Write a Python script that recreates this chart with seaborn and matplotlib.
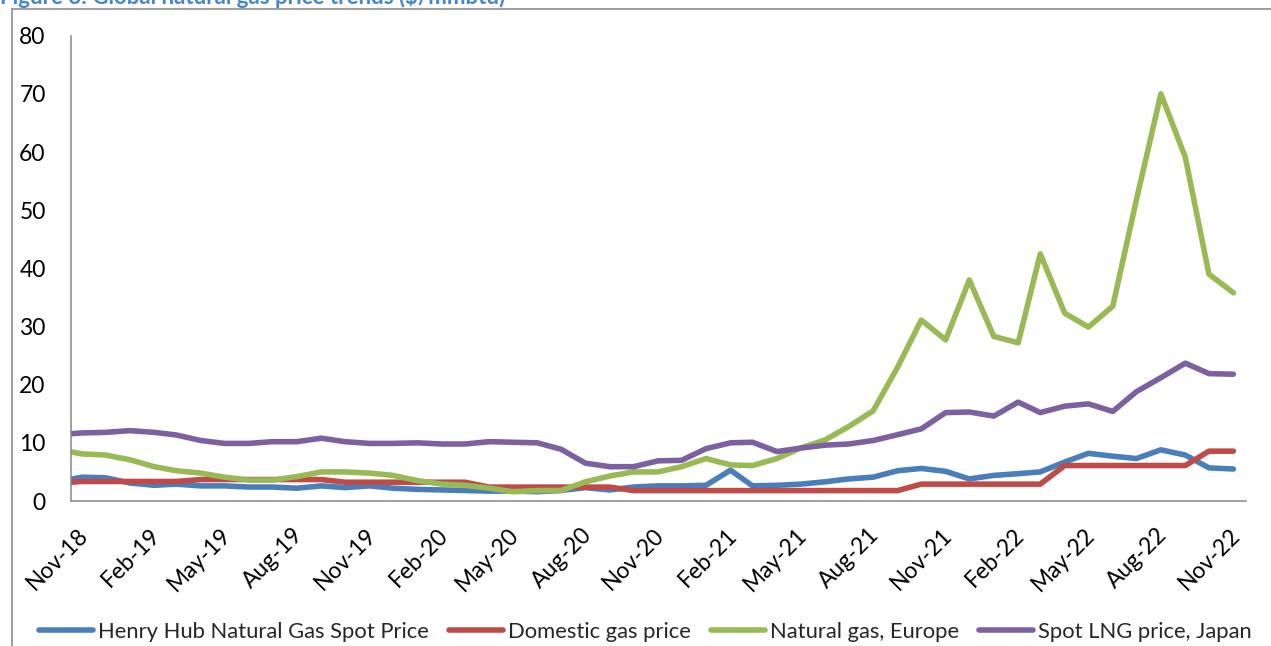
import numpy as np
import pandas as pd
import matplotlib
matplotlib.use("Agg")
import matplotlib.pyplot as plt
import matplotlib.transforms as mtransforms
from matplotlib.lines import Line2D
import seaborn as sns

# Monthly observations (mid-month), Oct-18 .. Nov-22
months = pd.date_range("2018-10-01", "2022-11-01", freq="MS") + pd.Timedelta(days=14)

henry_hub = [3.3, 4.1, 4.0, 3.1, 2.7, 2.9, 2.6, 2.6, 2.4, 2.4,
             2.2, 2.6, 2.3, 2.6, 2.2, 2.0, 1.9, 1.8, 1.7, 1.7,
             1.6, 1.8, 2.3, 1.9, 2.4, 2.6, 2.6, 2.7, 5.3, 2.6,
             2.7, 2.9, 3.3, 3.8, 4.1, 5.2, 5.6, 5.1, 3.8, 4.4,
             4.7, 5.0, 6.7, 8.2, 7.7, 7.3, 8.8, 7.9, 5.7, 5.5]

domestic_gas = [3.06, 3.36, 3.36, 3.36, 3.36, 3.36, 3.69, 3.69, 3.69, 3.69,
                3.69, 3.69, 3.23, 3.23, 3.23, 3.23, 3.23, 3.23, 2.39, 2.39,
                2.39, 2.39, 2.39, 2.39, 1.79, 1.79, 1.79, 1.79, 1.79, 1.79,
                1.79, 1.79, 1.79, 1.79, 1.79, 1.79, 2.90, 2.90, 2.90, 2.90,
                2.90, 2.90, 6.10, 6.10, 6.10, 6.10, 6.10, 6.10, 8.57, 8.57]

europe_gas = [8.9, 8.1, 7.9, 7.1, 5.9, 5.2, 4.8, 4.1, 3.6, 3.6,
              4.2, 5.0, 5.0, 4.8, 4.4, 3.5, 2.9, 2.7, 2.2, 1.6,
              1.8, 1.8, 3.3, 4.3, 5.0, 5.0, 5.9, 7.3, 6.2, 6.1,
              7.3, 9.1, 10.5, 12.8, 15.5, 23.0, 31.1, 27.7, 38.0, 28.3,
              27.2, 42.5, 32.3, 29.9, 33.5, 51.8, 70.0, 59.1, 39.0, 35.8]

japan_lng = [11.4, 11.7, 11.8, 12.1, 11.8, 11.35, 10.4, 9.9, 9.9, 10.2,
             10.2, 10.8, 10.2, 9.9, 9.9, 10.0, 9.8, 9.8, 10.2, 10.1,
             10.0, 8.9, 6.5, 5.9, 5.9, 6.9, 7.0, 9.0, 10.0, 10.1,
             8.5, 9.1, 9.6, 9.8, 10.4, 11.4, 12.4, 15.2, 15.3, 14.6,
             17.0, 15.2, 16.3, 16.7, 15.4, 18.8, 21.2, 23.7, 21.9, 21.8]

series_names = ["Henry Hub Natural Gas Spot Price", "Domestic gas price",
                "Natural gas, Europe", "Spot LNG price, Japan"]
series_colors = ["#4A7EBB", "#BE4B48", "#98B954", "#7D60A0"]

tick_labels = ["Nov-18", "Feb-19", "May-19", "Aug-19", "Nov-19", "Feb-20",
               "May-20", "Aug-20", "Nov-20", "Feb-21", "May-21", "Aug-21",
               "Nov-21", "Feb-22", "May-22", "Aug-22", "Nov-22"]
y_ticks = [0, 10, 20, 30, 40, 50, 60, 70, 80]

title_text = "Figure 3: Global natural gas price trends ($/mmbtu)"

# Long-form table for seaborn
df = pd.concat([
    pd.DataFrame({"month": months, "price": vals, "series": name})
    for name, vals in zip(series_names, [henry_hub, domestic_gas, europe_gas, japan_lng])
], ignore_index=True)

sns.set_style("white")
plt.rcParams["font.family"] = ["Lato", "DejaVu Sans"]

W, H = 1271, 646
fig = plt.figure(figsize=(W / 100, H / 100), dpi=100)
ax = fig.add_axes([70.7 / W, 1 - 501 / H, (1246 - 70.7) / W, (501 - 35.7) / H])

sns.lineplot(data=df, x="month", y="price", hue="series", hue_order=series_names,
             palette=dict(zip(series_names, series_colors)), estimator=None,
             linewidth=4.0, solid_joinstyle="round", solid_capstyle="round",
             ax=ax, legend=True)

ax.set_xlim(pd.Timestamp("2018-11-01"), pd.Timestamp("2022-12-01"))
ax.set_ylim(0, 80)
ax.set_xlabel("")
ax.set_ylabel("")

axis_gray = "#868686"
for side in ["top", "right"]:
    ax.spines[side].set_visible(False)
for side in ["left", "bottom"]:
    ax.spines[side].set_color(axis_gray)
    ax.spines[side].set_linewidth(1.1)

ax.set_yticks(y_ticks)
ax.set_yticklabels([str(v) for v in y_ticks])
ax.tick_params(axis="y", length=6, width=1.1, color=axis_gray, pad=12,
               labelsize=16.5, labelcolor="black", direction="out")

tick_dates = pd.date_range("2018-11-01", periods=len(tick_labels), freq="3MS")
ax.set_xticks(tick_dates)
ax.set_xticklabels(tick_labels, rotation=45, ha="right", va="center",
                   rotation_mode="anchor")
ax.tick_params(axis="x", length=6, width=1.1, color=axis_gray, pad=16,
               labelsize=16.5, labelcolor="black", direction="out")
shift = mtransforms.ScaledTranslation(0.14, 0, fig.dpi_scale_trans)
for lab in ax.get_xticklabels():
    lab.set_transform(lab.get_transform() + shift)

# Legend across the bottom
handles, labels = ax.get_legend_handles_labels()
ax.get_legend().remove()
for h in handles:
    h.set_linewidth(4.0)
    h.set_solid_capstyle("round")
fig.legend(handles, labels, loc="center", bbox_to_anchor=(0.508, 0.022),
           ncol=4, frameon=False, fontsize=15.8, handlelength=2.45,
           handletextpad=0.25, columnspacing=0.9)

# Chart area border (top and left edges)
frame_gray = "#8C8C8C"
fig.add_artist(Line2D([12 / W, 1], [1 - 9 / H, 1 - 9 / H], transform=fig.transFigure,
                      color=frame_gray, lw=1.2))
fig.add_artist(Line2D([12 / W, 12 / W], [0, 1 - 9 / H], transform=fig.transFigure,
                      color=frame_gray, lw=1.2))

# Caption above the chart area
fig.text(0.0, 1 - 4 / H, title_text, ha="left", va="baseline", color="#4685C9",
         fontsize=16, fontweight="bold")

fig.savefig("out.png", dpi=100)
